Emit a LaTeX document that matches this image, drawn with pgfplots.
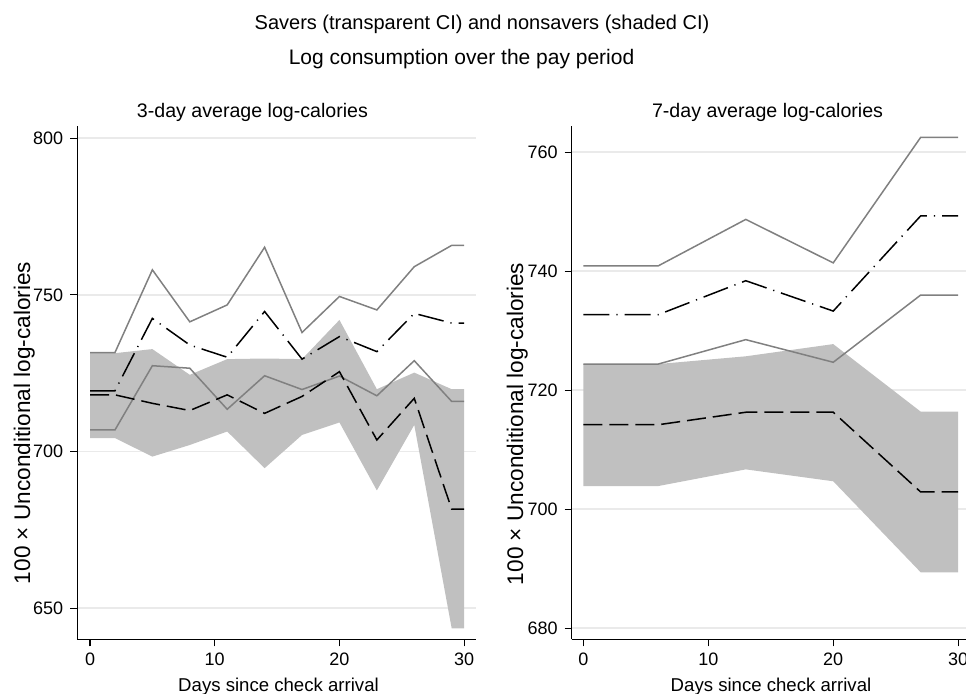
\documentclass[border=0pt]{standalone}
\usepackage{fontspec}
\setmainfont{Liberation Sans}
\usepackage{pgfplots}
\usepackage{pgfplotstable}
\pgfplotsset{compat=1.18}
\usepgfplotslibrary{fillbetween}
\definecolor{ciline}{RGB}{128,128,128}
\definecolor{nsfill}{RGB}{192,192,192}
\definecolor{gridc}{RGB}{234,234,234}

\pgfplotstableread{
x  su    sm    sl    nu    nm    nl
0  731.6 719.4 706.9 731.4 718.1 704.3
2  731.6 719.4 706.9 731.4 718.1 704.3
5  758.0 742.5 727.4 732.7 715.4 698.4
8  741.4 734.0 726.6 724.5 713.1 702.1
11 746.8 730.1 713.5 729.5 718.1 706.4
14 765.2 744.7 724.2 729.7 712.2 694.7
17 738.0 729.5 719.8 729.5 717.6 705.3
20 749.5 736.7 724.1 742.0 725.5 709.3
23 745.2 731.9 717.8 719.9 703.7 687.6
26 759.0 744.1 729.0 725.2 717.0 708.5
29 765.8 741.0 716.0 719.9 681.6 643.6
30 765.8 741.0 716.0 719.9 681.6 643.6
}\leftdata

\pgfplotstableread{
x  su    sm    sl    nu     nm    nl
0  740.9 732.7 724.4 724.4  714.2 703.9
6  740.9 732.7 724.4 724.4  714.2 703.9
13 748.7 738.4 728.5 725.7  716.3 706.7
20 741.4 733.3 724.7 727.75 716.3 704.7
27 762.5 749.3 736.0 716.4  702.9 689.4
30 762.5 749.3 736.0 716.4  702.9 689.4
}\rightdata

\pgfplotsset{
  stpanel/.style={
    scale only axis,
    axis x line*=bottom,
    axis y line*=left,
    axis line style={-, black, line width=0.6pt},
    tick align=outside,
    major tick length=3.5pt,
    tick style={black, line width=0.6pt},
    xtick={0,10,20,30},
    ymajorgrids,
    grid style={gridc, line width=0.8pt},
    ticklabel style={font=\fontsize{9}{10}\selectfont},
    /pgf/number format/assume math mode=true,
    /pgf/number format/1000 sep={},
    clip=false,
  },
  cil/.style={ciline, line width=0.75pt},
  sml/.style={black, line width=0.75pt, dash pattern=on 13pt off 3.5pt on 0.6pt off 3.5pt},
  nml/.style={black, line width=0.75pt, dash pattern=on 9.5pt off 3.5pt},
}

\begin{document}
\begin{tikzpicture}
% left panel
\begin{axis}[stpanel,
  at={(38.65pt,27.35pt)}, anchor=south west,
  width=199.35pt, height=256.65pt,
  xmin=-1.02, xmax=30.95, ymin=640.1, ymax=803.9,
  ytick={650,700,750,800}]
\addplot[draw=none, name path=lnu] table[x=x,y=nu]{\leftdata};
\addplot[draw=none, name path=lnl] table[x=x,y=nl]{\leftdata};
\addplot[fill=nsfill, draw=none] fill between[of=lnu and lnl];
\addplot[cil] table[x=x,y=su]{\leftdata};
\addplot[cil] table[x=x,y=sl]{\leftdata};
\addplot[nml] table[x=x,y=nm]{\leftdata};
\addplot[sml] table[x=x,y=sm]{\leftdata};
\end{axis}
% right panel
\begin{axis}[stpanel,
  at={(285.85pt,27.35pt)}, anchor=south west,
  width=199.5pt, height=256.65pt,
  xmin=-0.93, xmax=31, ymin=678.15, ymax=764.4,
  ytick={680,700,720,740,760}]
\addplot[draw=none, name path=rnu] table[x=x,y=nu]{\rightdata};
\addplot[draw=none, name path=rnl] table[x=x,y=nl]{\rightdata};
\addplot[fill=nsfill, draw=none] fill between[of=rnu and rnl];
\addplot[cil] table[x=x,y=su]{\rightdata};
\addplot[cil] table[x=x,y=sl]{\rightdata};
\addplot[nml] table[x=x,y=nm]{\rightdata};
\addplot[sml] table[x=x,y=sm]{\rightdata};
\end{axis}
% titles
\node[anchor=base, font=\fontsize{10}{12}\selectfont] at (241pt,332pt) {Savers (transparent CI) and nonsavers (shaded CI)};
\node[anchor=base west, font=\fontsize{10.5}{12}\selectfont] at (140.85pt,314.5pt) {Log consumption over the pay period};
\node[anchor=base east, font=\fontsize{9.8}{12}\selectfont] at (187.5pt,288.35pt) {3-day average log-calories};
\node[anchor=base west, font=\fontsize{9.8}{12}\selectfont] at (322.5pt,288.35pt) {7-day average log-calories};
% axis titles
\node[rotate=90, anchor=base, font=\fontsize{11.3}{13}\selectfont] at (15pt,135.5pt) {100 × Unconditional log-calories};
\node[rotate=90, anchor=base, font=\fontsize{11.3}{13}\selectfont] at (261.5pt,135pt) {100 × Unconditional log-calories};
\node[anchor=base, font=\fontsize{9.3}{11}\selectfont] at (139.25pt,1.15pt) {Days since check arrival};
\node[anchor=base, font=\fontsize{9.3}{11}\selectfont] at (385.5pt,1.15pt) {Days since check arrival};
\pgfresetboundingbox
\useasboundingbox (0,0) rectangle (483pt,347pt);
\end{tikzpicture}
\end{document}
